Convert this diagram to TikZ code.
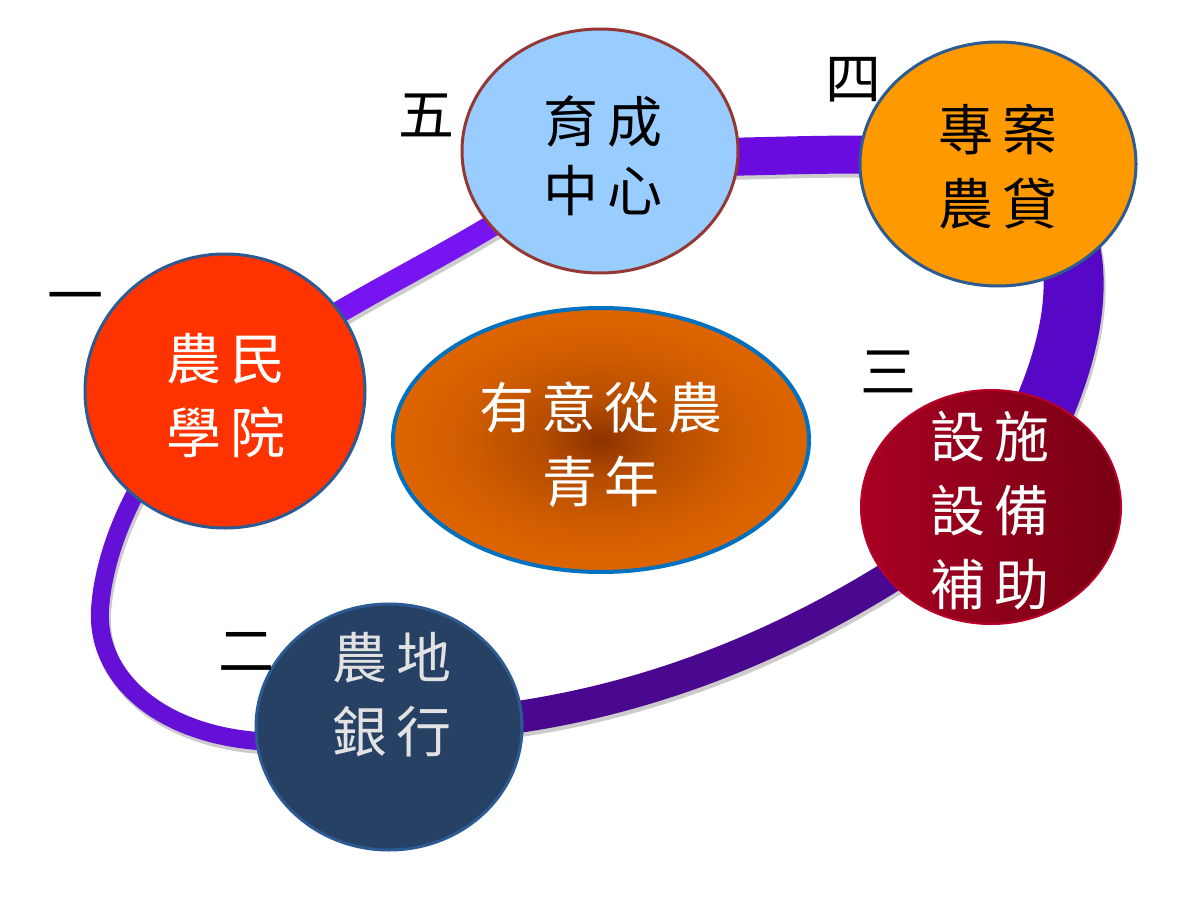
\documentclass[tikz,border=0pt]{standalone}
\usepackage{fontspec}
\newfontfamily\cjk{Noto Sans CJK TC}
\usetikzlibrary{shapes.geometric}
\pgfdeclarelayer{back}
\pgfsetlayers{back,main}
\definecolor{cBlue}{HTML}{99CCFF}
\definecolor{cBlueLine}{HTML}{953735}
\definecolor{cOrange}{HTML}{FF9900}
\definecolor{cRed}{HTML}{FF3300}
\definecolor{cNavy}{HTML}{264163}
\definecolor{cEdge}{HTML}{2C5A92}
\definecolor{cCrimA}{HTML}{A80022}
\definecolor{cCrimB}{HTML}{780012}
\definecolor{cCrimLine}{HTML}{B8002A}
\definecolor{cCenterLine}{HTML}{0070C0}
\definecolor{cGray}{HTML}{E2E2E2}
\definecolor{rA}{HTML}{7614F2}
\definecolor{rB}{HTML}{6A0CE0}
\definecolor{rC}{HTML}{5608C6}
\definecolor{rD}{HTML}{4A0890}
\definecolor{rE}{HTML}{6410D6}
\definecolor{bA}{HTML}{8C3200}
\definecolor{bB}{HTML}{B44C00}
\definecolor{bC}{HTML}{D45F00}
\definecolor{bD}{HTML}{DE6500}
\pgfdeclareradialshading{centerglow}{\pgfpoint{0bp}{0bp}}{color(0bp)=(bA); color(7bp)=(bB); color(18bp)=(bC); color(25bp)=(bD); color(50bp)=(bD)}
\begin{document}
\begin{tikzpicture}[x=1pt,y=-1pt,
  bubble/.style={ellipse, inner sep=0pt, line width=3pt},
  txt/.style={font=\cjk\fontsize{55}{74}\selectfont, align=center, inner sep=0pt},
  num/.style={font=\cjk\fontsize{56}{56}\selectfont, inner sep=0pt, text=black},
  tube/.style={line width=#1, preaction={draw=black, draw opacity=0.2, line width=#1, transform canvas={shift={(2,4)}}}}]
\useasboundingbox (0,0) rectangle (1200,899);
% circles
\node[bubble, fill=cBlue, draw=cBlueLine, minimum width=276pt, minimum height=244pt] (yc) at (600,151) {};
\node[bubble, fill=cOrange, draw=cEdge, minimum width=276pt, minimum height=244pt] (zx) at (998,164) {};
\node[bubble, fill=cRed, draw=cEdge, minimum width=280pt, minimum height=274pt] (nm) at (225,391) {};
\node[bubble, left color=cCrimA, right color=cCrimB, draw=cCrimLine, line width=2pt, minimum width=260pt, minimum height=234pt] (ss) at (991,507) {};
\node[bubble, fill=cNavy, draw=cEdge, minimum width=266pt, minimum height=246pt] (nd) at (389,727) {};
\node[ellipse, inner sep=0pt, minimum width=416pt, minimum height=264pt, draw=cCenterLine, line width=4pt, shading=centerglow] (core) at (601,440) {};
% texts
\node[txt, text=black] (tyc) at (603,156) {育\hspace{10pt}成\\[-5pt]中\hspace{10pt}心};
\node[txt, text=black] (tzx) at (998,167) {專\hspace{10pt}案\\農\hspace{10pt}貸};
\node[txt, text=white] (tnm) at (226,396) {農\hspace{10pt}民\\學\hspace{10pt}院};
\node[txt, text=cGray] (tnd) at (392,695) {農\hspace{10pt}地\\銀\hspace{10pt}行};
\node[txt, text=white] (tss) at (990,511) {設\hspace{10pt}施\\設\hspace{10pt}備\\補\hspace{10pt}助};
\node[txt, text=white] (tcore) at (601,445) {有\hspace{8pt}意\hspace{8pt}從\hspace{8pt}農\\青\hspace{8pt}年};
% numbers
\node[num] (n5) at (426,115) {五};
\node[num] (n4) at (853,80) {四};
\node[num] (n3) at (888,372) {三};
\node[num] (n2) at (246,652) {二};
\node[num] (n1) at (75,304) {一};
% ring
\coordinate (lw) at (100,610);
\begin{pgfonlayer}{back}
\fill[white] (0,0) rectangle (1200,899);
\draw[tube=22pt, draw=rA] (nm.center) .. controls (330,300) and (480,250) .. (yc.center);
\draw[tube=38pt, draw=rB] (yc.center) .. controls (700,168) and (850,142) .. (zx.center);
\draw[tube=60pt, draw=rC] (zx.center) .. controls (1095,200) and (1105,330) .. (ss.center);
\draw[tube=32pt, draw=rD] (ss.center) .. controls (850,615) and (650,725) .. (nd.center);
\draw[tube=18pt, draw=rE] (nd.center) .. controls (210,775) and (95,700) .. (lw) .. controls (104,540) and (150,440) .. (nm.center);
\end{pgfonlayer}
\end{tikzpicture}
\end{document}
